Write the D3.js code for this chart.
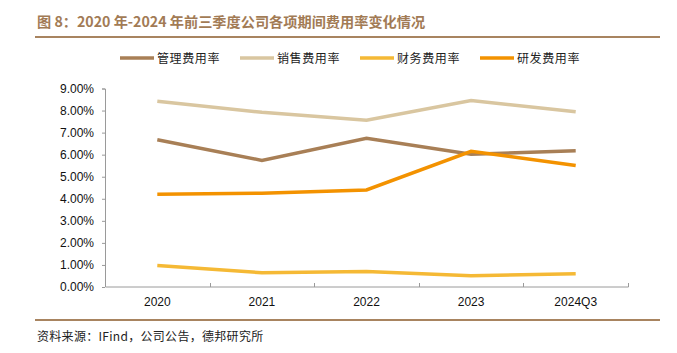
<!DOCTYPE html>
<html>
<head>
<meta charset="utf-8">
<script src="https://cdn.jsdelivr.net/npm/d3@7"></script>
<style>
  body { margin: 0; background: #fff; }
  svg { display: block; }
  .axis text { font-family: "Liberation Sans", Arial, sans-serif; font-size: 12px; fill: #111; }
  .axis path, .axis line { stroke: #9a9a9a; }
</style>
</head>
<body>
<div id="chart"></div>
<script>
// categories and series (percent)
const years = ['2020', '2021', '2022', '2023', '2024Q3'];
const seriesNames = ['管理费用率', '销售费用率', '财务费用率', '研发费用率'];
const seriesColors = ['#a87f56', '#d9c6a0', '#f5b935', '#f39200'];
const admin = [6.68, 5.74, 6.74, 6.02, 6.18];
const sales = [8.42, 7.92, 7.56, 8.45, 7.95];
const finance = [0.97, 0.65, 0.70, 0.51, 0.60];
const rnd = [4.21, 4.25, 4.40, 6.15, 5.51];
const yTicks = [0, 1, 2, 3, 4, 5, 6, 7, 8, 9];

const W = 677, H = 353;
const margin = {top: 88.5, right: 49, bottom: 66, left: 105};
const width = W - margin.left - margin.right;
const height = H - margin.top - margin.bottom;

const svg = d3.select('#chart').append('svg')
    .attr('width', W)
    .attr('height', H);

// title + rules
svg.append('text')
    .attr('x', 37).attr('y', 27)
    .attr('font-family', '"Noto Sans CJK SC", "Liberation Sans", sans-serif')
    .attr('font-size', 14.2).attr('font-weight', 'bold')
    .attr('fill', '#a27b55')
    .text('图 8：2020 年-2024 年前三季度公司各项期间费用率变化情况');

svg.append('line')
    .attr('x1', 35).attr('x2', 660).attr('y1', 37).attr('y2', 37)
    .attr('stroke', '#a88460').attr('stroke-width', 2);

svg.append('line')
    .attr('x1', 35).attr('x2', 660).attr('y1', 320).attr('y2', 320)
    .attr('stroke', '#a88460').attr('stroke-width', 2);

svg.append('text')
    .attr('x', 37).attr('y', 341)
    .attr('font-family', '"Noto Sans CJK SC", sans-serif')
    .attr('font-size', 12).attr('letter-spacing', 0.3).attr('fill', '#222')
    .text('资料来源：IFind，公司公告，德邦研究所');

// legend
const legendX = [120, 240, 360, 480];
const legend = svg.append('g');
seriesNames.forEach((name, i) => {
    const g = legend.append('g').attr('transform', `translate(${legendX[i]},58)`);
    g.append('line')
        .attr('x1', 0).attr('x2', 34).attr('y1', 0).attr('y2', 0)
        .attr('stroke', seriesColors[i]).attr('stroke-width', 3.5);
    g.append('text')
        .attr('x', 37).attr('y', 4.5)
        .attr('font-family', '"Noto Sans CJK SC", sans-serif')
        .attr('font-size', 12).attr('letter-spacing', 0.6)
        .attr('fill', '#222')
        .text(name);
});

const plot = svg.append('g')
    .attr('transform', `translate(${margin.left},${margin.top})`);

const x = d3.scaleBand().domain(years).range([0, width]);
const y = d3.scaleLinear().domain([0, 9]).range([height, 0]);

// y axis
const yAxis = plot.append('g').attr('class', 'axis')
    .call(d3.axisLeft(y).tickValues(yTicks).tickSize(3).tickPadding(8)
        .tickFormat(d => d.toFixed(2) + '%'));
yAxis.select('.domain').attr('d', `M-3,0.5H0.5V${height}`);

// x axis with ticks on band edges, pointing up
const xAxis = plot.append('g').attr('class', 'axis')
    .attr('transform', `translate(0,${height})`)
    .call(d3.axisBottom(x).tickSize(0).tickPadding(10));
xAxis.select('.domain').attr('d', `M0.5,0H${width + 0.5}V-4`);
xAxis.selectAll('.edge')
    .data(years.slice(1))
    .enter().append('line')
    .attr('x1', d => Math.round(x(d)) + 0.5)
    .attr('x2', d => Math.round(x(d)) + 0.5)
    .attr('y1', 0).attr('y2', -4)
    .attr('stroke', '#9a9a9a');

// lines
const allSeries = [admin, sales, finance, rnd];
const line = d3.line()
    .x((d, i) => x(years[i]) + x.bandwidth() / 2)
    .y(d => y(d));

allSeries.forEach((vals, i) => {
    plot.append('path')
        .datum(vals)
        .attr('fill', 'none')
        .attr('stroke', seriesColors[i])
        .attr('stroke-width', 3.5)
        .attr('stroke-linejoin', 'miter')
        .attr('d', line);
});
</script>
</body>
</html>
